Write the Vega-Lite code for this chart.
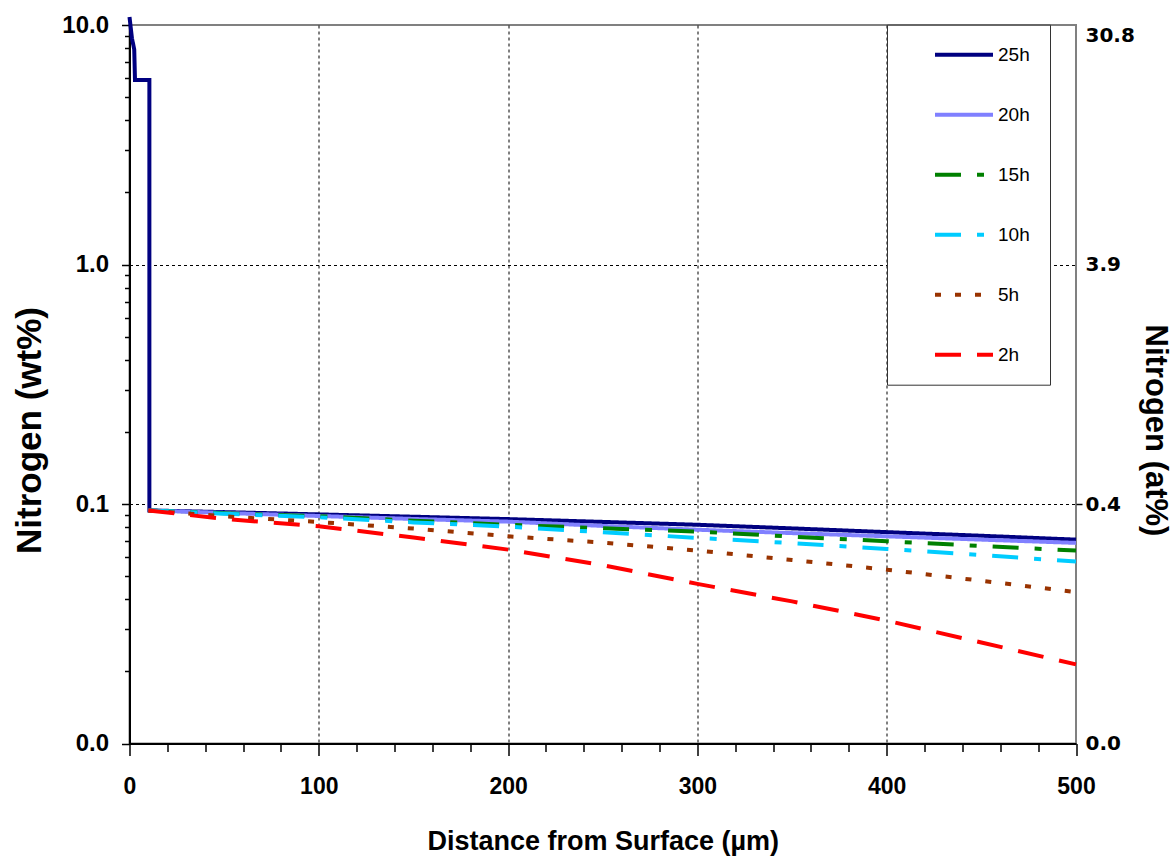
{
  "$schema": "https://vega.github.io/schema/vega-lite/v6.json",
  "width": 946.5,
  "height": 718.5,
  "autosize": {"type": "none"},
  "padding": {"left": 129.5, "top": 25, "right": 100, "bottom": 114.5},
  "background": "white",
  "config": {"view": {"stroke": "#808080", "strokeWidth": 2}, "font": "Liberation Sans"},
  "data": {"values": [
    {"s": "25h", "i": 0, "d": 0, "n": 10.8},
    {"s": "25h", "i": 1, "d": 1.3, "n": 8.8},
    {"s": "25h", "i": 2, "d": 2.5, "n": 7.9},
    {"s": "25h", "i": 3, "d": 2.9, "n": 5.9},
    {"s": "25h", "i": 4, "d": 10.5, "n": 5.9},
    {"s": "25h", "i": 5, "d": 10.5, "n": 0.094},
    {"s": "25h", "i": 6, "d": 50, "n": 0.0925},
    {"s": "25h", "i": 7, "d": 100, "n": 0.0905},
    {"s": "25h", "i": 8, "d": 150, "n": 0.0885},
    {"s": "25h", "i": 9, "d": 200, "n": 0.0865},
    {"s": "25h", "i": 10, "d": 250, "n": 0.0842},
    {"s": "25h", "i": 11, "d": 300, "n": 0.0819},
    {"s": "25h", "i": 12, "d": 350, "n": 0.0791},
    {"s": "25h", "i": 13, "d": 400, "n": 0.0763},
    {"s": "25h", "i": 14, "d": 450, "n": 0.0737},
    {"s": "25h", "i": 15, "d": 500, "n": 0.071},
    {"s": "20h", "i": 0, "d": 10, "n": 0.094},
    {"s": "20h", "i": 1, "d": 50, "n": 0.0918},
    {"s": "20h", "i": 2, "d": 100, "n": 0.0891},
    {"s": "20h", "i": 3, "d": 150, "n": 0.0866},
    {"s": "20h", "i": 4, "d": 200, "n": 0.0844},
    {"s": "20h", "i": 5, "d": 250, "n": 0.081},
    {"s": "20h", "i": 6, "d": 300, "n": 0.0781},
    {"s": "20h", "i": 7, "d": 350, "n": 0.0756},
    {"s": "20h", "i": 8, "d": 400, "n": 0.0733},
    {"s": "20h", "i": 9, "d": 450, "n": 0.071},
    {"s": "20h", "i": 10, "d": 500, "n": 0.0688},
    {"s": "15h", "i": 0, "d": 10, "n": 0.094},
    {"s": "15h", "i": 1, "d": 50, "n": 0.0915},
    {"s": "15h", "i": 2, "d": 100, "n": 0.089},
    {"s": "15h", "i": 3, "d": 150, "n": 0.0852},
    {"s": "15h", "i": 4, "d": 200, "n": 0.0819},
    {"s": "15h", "i": 5, "d": 250, "n": 0.0792},
    {"s": "15h", "i": 6, "d": 300, "n": 0.0767},
    {"s": "15h", "i": 7, "d": 350, "n": 0.0731},
    {"s": "15h", "i": 8, "d": 400, "n": 0.0699},
    {"s": "15h", "i": 9, "d": 450, "n": 0.0668},
    {"s": "15h", "i": 10, "d": 500, "n": 0.0639},
    {"s": "10h", "i": 0, "d": 10, "n": 0.094},
    {"s": "10h", "i": 1, "d": 50, "n": 0.091},
    {"s": "10h", "i": 2, "d": 100, "n": 0.088},
    {"s": "10h", "i": 3, "d": 150, "n": 0.0838},
    {"s": "10h", "i": 4, "d": 200, "n": 0.0804},
    {"s": "10h", "i": 5, "d": 250, "n": 0.0762},
    {"s": "10h", "i": 6, "d": 300, "n": 0.0722},
    {"s": "10h", "i": 7, "d": 350, "n": 0.0686},
    {"s": "10h", "i": 8, "d": 400, "n": 0.0649},
    {"s": "10h", "i": 9, "d": 450, "n": 0.0612},
    {"s": "10h", "i": 10, "d": 500, "n": 0.0575},
    {"s": "5h", "i": 0, "d": 10, "n": 0.094},
    {"s": "5h", "i": 1, "d": 50, "n": 0.0888},
    {"s": "5h", "i": 2, "d": 100, "n": 0.0841},
    {"s": "5h", "i": 3, "d": 150, "n": 0.079},
    {"s": "5h", "i": 4, "d": 200, "n": 0.0733},
    {"s": "5h", "i": 5, "d": 250, "n": 0.069},
    {"s": "5h", "i": 6, "d": 300, "n": 0.0639},
    {"s": "5h", "i": 7, "d": 350, "n": 0.0584},
    {"s": "5h", "i": 8, "d": 400, "n": 0.0532},
    {"s": "5h", "i": 9, "d": 450, "n": 0.0478},
    {"s": "5h", "i": 10, "d": 500, "n": 0.0429},
    {"s": "2h", "i": 0, "d": 10, "n": 0.094},
    {"s": "2h", "i": 1, "d": 50, "n": 0.0866},
    {"s": "2h", "i": 2, "d": 100, "n": 0.0807},
    {"s": "2h", "i": 3, "d": 150, "n": 0.0725},
    {"s": "2h", "i": 4, "d": 200, "n": 0.0645},
    {"s": "2h", "i": 5, "d": 250, "n": 0.0555},
    {"s": "2h", "i": 6, "d": 300, "n": 0.0464},
    {"s": "2h", "i": 7, "d": 350, "n": 0.0392},
    {"s": "2h", "i": 8, "d": 400, "n": 0.0326},
    {"s": "2h", "i": 9, "d": 450, "n": 0.0264},
    {"s": "2h", "i": 10, "d": 500, "n": 0.0214}
  ]},
  "encoding": {
    "x": {
      "field": "d", "type": "quantitative",
      "scale": {"domain": [0, 500], "nice": false, "zero": false},
      "axis": {
        "values": [0, 20, 40, 60, 80, 100, 120, 140, 160, 180, 200, 220, 240, 260, 280, 300, 320, 340, 360, 380, 400, 420, 440, 460, 480, 500],
        "labelExpr": "datum.value % 100 === 0 ? datum.label : ''",
        "title": "Distance from Surface (µm)",
        "tickSize": {"condition": {"test": "datum.value % 100 === 0", "value": 12}, "value": 8},
        "grid": true,
        "gridOpacity": {"condition": {"test": "datum.value % 100 === 0 && datum.value > 0 && datum.value < 500", "value": 1}, "value": 0},
        "gridColor": "black", "gridDash": [3, 3], "gridWidth": 1,
        "domainColor": "black", "domainWidth": 2,
        "tickColor": "black", "tickWidth": 1.5,
        "labelFont": "Liberation Sans", "labelFontSize": 23, "labelFontWeight": "bold", "labelColor": "black",
        "labelPadding": 20, "labelFlush": false, "labelOverlap": false,
        "titleFont": "Liberation Sans", "titleFontSize": 27, "titleFontWeight": "bold", "titleColor": "black",
        "titlePadding": 30
      }
    },
    "order": {"field": "i", "type": "quantitative"}
  },
  "layer": [
    {
      "mark": {"type": "line", "strokeWidth": 4, "clip": false},
      "encoding": {
        "y": {
          "field": "n", "type": "quantitative",
          "scale": {"type": "log", "domain": [0.01, 10], "nice": false},
          "axis": {
            "orient": "left",
            "values": [0.01, 0.02, 0.03, 0.04, 0.05, 0.06, 0.07, 0.08, 0.09, 0.1, 0.2, 0.3, 0.4, 0.5, 0.6, 0.7, 0.8, 0.9, 1, 2, 3, 4, 5, 6, 7, 8, 9, 10],
            "labelExpr": "indexof([0.01, 0.1, 1, 10], datum.value) >= 0 ? format(datum.value, '.1f') : ''",
            "title": "Nitrogen (wt%)",
            "tickSize": {"condition": {"test": "indexof([0.01, 0.1, 1, 10], datum.value) >= 0", "value": 8}, "value": 5},
            "grid": true,
            "gridOpacity": {"condition": {"test": "datum.value === 0.1 || datum.value === 1", "value": 1}, "value": 0},
            "gridColor": "black", "gridDash": [3, 3], "gridWidth": 1,
            "domainColor": "black", "domainWidth": 2,
            "tickColor": "black", "tickWidth": 1.5,
            "labelFont": "Liberation Sans", "labelFontSize": 24, "labelFontWeight": "bold", "labelColor": "black",
            "labelPadding": 13, "labelFlush": false, "labelOverlap": false,
            "titleFont": "Liberation Sans", "titleFontSize": 35, "titleFontWeight": "bold", "titleColor": "black",
            "titlePadding": 14, "titleY": 405
          }
        },
        "color": {
          "field": "s", "type": "nominal",
          "scale": {"domain": ["25h", "20h", "15h", "10h", "5h", "2h"], "range": ["#000080", "#8080FF", "#008000", "#00CCFF", "#993300", "#FF0000"]},
          "legend": {
            "orient": "none", "legendX": 757.5, "legendY": -0.3, "title": null,
            "symbolType": "stroke", "symbolSize": 3364, "symbolStrokeWidth": 4,
            "clipHeight": 20, "rowPadding": 40, "padding": 20,
            "symbolOffset": 26, "labelOffset": 3,
            "labelFont": "Liberation Sans", "labelFontSize": 19, "labelColor": "black",
            "strokeColor": "#333333", "fillColor": "white",
            "labelExpr": "datum.label + '\u00a0\u00a0\u00a0\u00a0\u00a0\u00a0\u00a0'"
          }
        },
        "strokeDash": {
          "field": "s", "type": "nominal",
          "scale": {"domain": ["25h", "20h", "15h", "10h", "5h", "2h"], "range": [[1, 0], [1, 0], [26, 16, 7, 16], [26, 16, 7, 16], [6, 14], [26, 16]]},
          "legend": {
            "orient": "none", "legendX": 757.5, "legendY": -0.3, "title": null,
            "symbolType": "stroke", "symbolSize": 3364, "symbolStrokeWidth": 4,
            "clipHeight": 20, "rowPadding": 40, "padding": 20,
            "symbolOffset": 26, "labelOffset": 3,
            "labelFont": "Liberation Sans", "labelFontSize": 19, "labelColor": "black",
            "strokeColor": "#333333", "fillColor": "white",
            "labelExpr": "datum.label + '\u00a0\u00a0\u00a0\u00a0\u00a0\u00a0\u00a0'"
          }
        }
      }
    },
    {
      "mark": {"type": "line", "opacity": 0},
      "encoding": {
        "y": {
          "field": "n", "type": "quantitative",
          "scale": {"type": "log", "domain": [0.01, 10], "nice": false},
          "axis": {
            "orient": "right",
            "values": [0.01, 0.1, 1, 10],
            "labelExpr": "datum.value === 10 ? '30.8' : datum.value === 1 ? '3.9' : datum.value === 0.1 ? '0.4' : '0.0'",
            "title": "Nitrogen (at%)",
            "domain": false, "grid": false,
            "tickSize": 6, "tickColor": "black", "tickWidth": 1.5,
            "tickOpacity": {"condition": {"test": "datum.value === 0.1", "value": 1}, "value": 0},
            "labelBaseline": {"condition": {"test": "datum.value === 10", "value": "top"}, "value": "middle"},
            "labelFont": "DejaVu Sans", "labelFontSize": 20, "labelFontWeight": "bold", "labelColor": "black",
            "labelPadding": 3, "labelFlush": false, "labelOverlap": false,
            "titleFont": "Liberation Sans", "titleFontSize": 31, "titleFontWeight": "bold", "titleColor": "black",
            "titlePadding": 4, "titleY": 405
          }
        },
        "detail": {"field": "s", "type": "nominal"}
      }
    }
  ],
  "resolve": {"scale": {"y": "shared"}, "axis": {"y": "independent"}}
}
